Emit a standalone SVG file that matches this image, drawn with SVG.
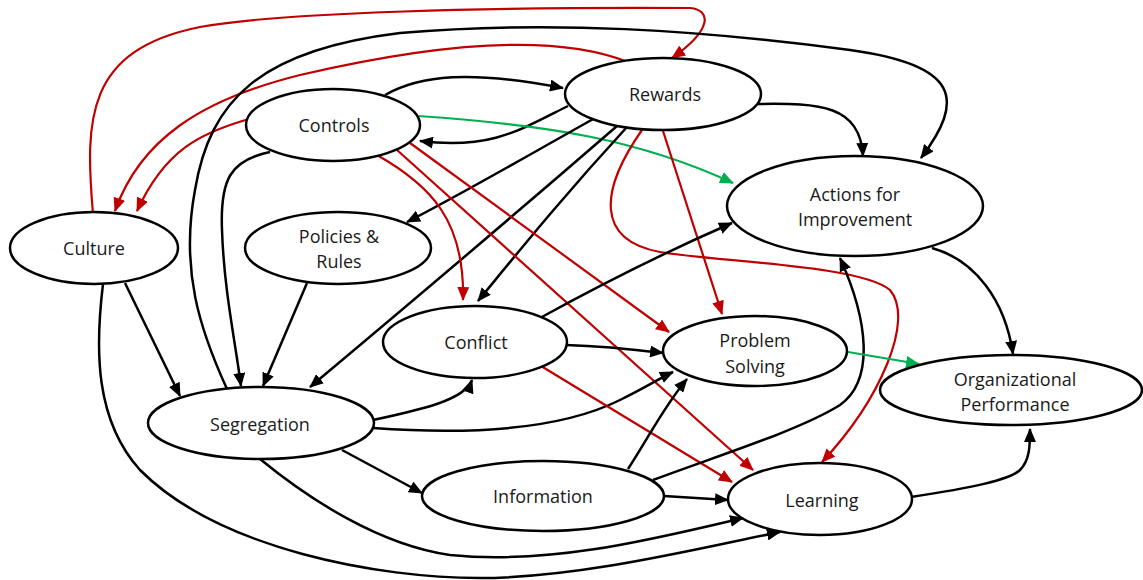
<svg xmlns="http://www.w3.org/2000/svg" width="1143" height="580" viewBox="0 0 1143 580">
<style>
.n{fill:#fff;stroke:#000;stroke-width:2.5}
.t{font-family:"Open Sans","Liberation Sans",sans-serif;font-size:18px;fill:#1a1a1a;text-anchor:middle}
.k{fill:none;stroke:#000;stroke-width:2.5;marker-end:url(#ak)}
.r{fill:none;stroke:#C00000;stroke-width:2.2;marker-end:url(#ar)}
.g{fill:none;stroke:#00B050;stroke-width:2.2;marker-end:url(#ag)}
</style>
<defs>
<marker id="ak" viewBox="0 0 14 12" refX="13" refY="6" markerWidth="14" markerHeight="12" orient="auto" markerUnits="userSpaceOnUse"><path d="M0,0 L14,6 L0,12 z" fill="#000"/></marker>
<marker id="ar" viewBox="0 0 14 12" refX="13" refY="6" markerWidth="14" markerHeight="12" orient="auto" markerUnits="userSpaceOnUse"><path d="M0,0 L14,6 L0,12 z" fill="#C00000"/></marker>
<marker id="ag" viewBox="0 0 14 12" refX="13" refY="6" markerWidth="14" markerHeight="12" orient="auto" markerUnits="userSpaceOnUse"><path d="M0,0 L14,6 L0,12 z" fill="#00B050"/></marker>
</defs>
<rect width="1143" height="580" fill="#fff"/>
<g id="connectors">
<path class="r" d="M93,214 C85,120 85,50 200,27 C280,12 500,7 690,8 C712,10 712,30 672,58"/>
<path class="r" d="M628,62 C560,35 450,40 300,75 C200,100 140,140 115,211"/>
<path class="r" d="M249,119 C200,133 165,150 137,211"/>
<path class="k" d="M227,389 C200,330 180,270 195,190 C210,100 260,50 400,33 C550,20 700,30 850,50 C960,65 965,100 921,158"/>
<path class="k" d="M270,152 C230,160 220,180 222,230 C224,290 235,340 241,386"/>
<path class="k" d="M385,95 C420,75 470,70 563,88"/>
<path class="k" d="M568,106 C520,130 490,150 420,141"/>
<path class="g" d="M418,116 C550,125 640,140 733,183"/>
<path class="k" d="M595,118 C520,160 460,195 407,222"/>
<path class="k" d="M617,126 C520,210 420,295 310,387"/>
<path class="k" d="M627,127 C560,200 520,250 478,301"/>
<path class="r" d="M642,130 C600,190 595,240 660,252 C720,262 860,265 890,290 C915,320 880,400 822,462"/>
<path class="r" d="M663,131 L722,314"/>
<path class="k" d="M758,104 C820,103 860,105 863,156"/>
<path class="r" d="M377,155 C430,185 465,220 463,300"/>
<path class="r" d="M397,150 L753,470"/>
<path class="r" d="M410,143 L669,332"/>
<path class="k" d="M125,283 L180,396"/>
<path class="k" d="M103,284 C95,350 95,420 140,470 C220,550 380,578 480,578 C580,578 700,548 780,532"/>
<path class="k" d="M260,459 C310,500 380,545 450,555 C550,565 650,540 743,518"/>
<path class="k" d="M342,450 L422,493"/>
<path class="k" d="M373,420 C420,410 465,400 472,380"/>
<path class="k" d="M373,428 C470,435 560,430 620,400 C645,388 660,378 673,372"/>
<path class="k" d="M566,345 C600,346 630,349 663,353"/>
<path class="k" d="M540,318 C600,285 670,250 732,223"/>
<path class="r" d="M541,366 L732,482"/>
<path class="k" d="M628,469 C650,435 665,405 687,379"/>
<path class="k" d="M653,480 C720,455 800,430 840,405 C875,380 868,320 840,258"/>
<path class="k" d="M664,496 L728,500"/>
<path class="g" d="M848,352 L919,364"/>
<path class="k" d="M932,248 C975,260 1005,300 1013,354"/>
<path class="k" d="M911,497 C970,488 1010,480 1020,470 C1030,460 1030,445 1030,429"/>
<path class="k" d="M307,283 L263,386"/>
</g>
<g id="culture"><ellipse class="n" cx="94" cy="248" rx="84" ry="36"/><text class="t" x="94" y="255">Culture</text></g>
<g id="controls"><ellipse class="n" cx="333" cy="125" rx="87" ry="36"/><text class="t" x="334" y="132">Controls</text></g>
<g id="rewards"><ellipse class="n" cx="663" cy="94" rx="98" ry="36"/><text class="t" x="665" y="101">Rewards</text></g>
<g id="policies"><ellipse class="n" cx="338" cy="248" rx="93" ry="36"/><text class="t" x="339" y="243">Policies &amp;</text><text class="t" x="339" y="268">Rules</text></g>
<g id="actions"><ellipse class="n" cx="855" cy="206" rx="128" ry="50"/><text class="t" x="855" y="201">Actions for</text><text class="t" x="855" y="226">Improvement</text></g>
<g id="conflict"><ellipse class="n" cx="475" cy="342" rx="92" ry="36"/><text class="t" x="476" y="349">Conflict</text></g>
<g id="problem"><ellipse class="n" cx="755" cy="351" rx="92" ry="35"/><text class="t" x="755" y="347">Problem</text><text class="t" x="755" y="373">Solving</text></g>
<g id="orgperf"><ellipse class="n" cx="1011" cy="390" rx="131" ry="35"/><text class="t" x="1015" y="386">Organizational</text><text class="t" x="1015" y="411">Performance</text></g>
<g id="segregation"><ellipse class="n" cx="261" cy="423" rx="113" ry="36"/><text class="t" x="260" y="431">Segregation</text></g>
<g id="information"><ellipse class="n" cx="543" cy="496" rx="121" ry="35"/><text class="t" x="543" y="503">Information</text></g>
<g id="learning"><ellipse class="n" cx="820" cy="499" rx="92" ry="36"/><text class="t" x="822" y="507">Learning</text></g>
</svg>
